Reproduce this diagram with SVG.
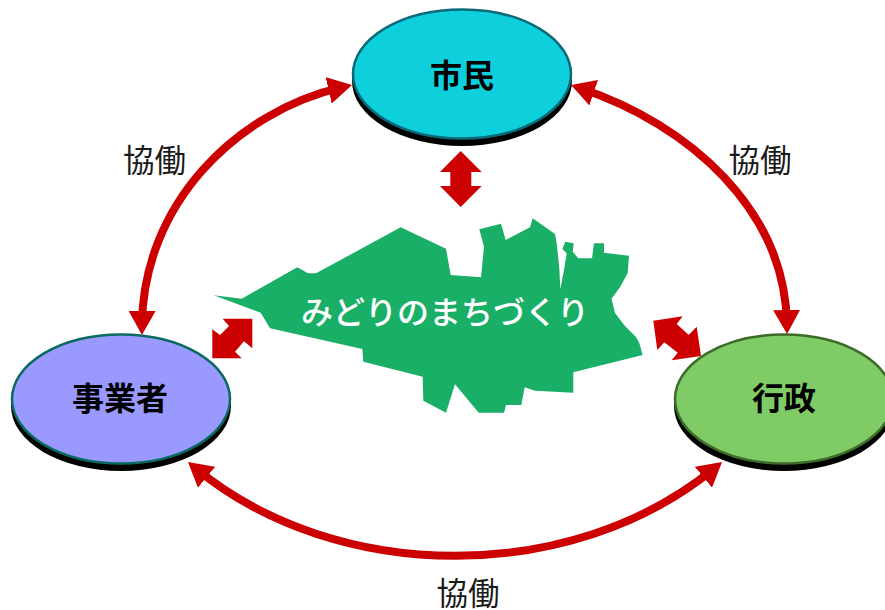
<svg xmlns="http://www.w3.org/2000/svg" width="885" height="610" viewBox="0 0 885 610">
<style>
.shadow{fill:#000}
.label{font-family:"Noto Sans CJK JP","Liberation Sans",sans-serif;font-weight:700;font-size:32px;fill:#000;text-anchor:middle}
.note{font-family:"Noto Sans CJK JP","Liberation Sans",sans-serif;font-weight:400;font-size:31.5px;fill:#1a1a1a;text-anchor:middle}
.arc{fill:none;stroke:#cc0000;stroke-width:8;marker-start:url(#head);marker-end:url(#head)}
.block{fill:#cc0000}
</style>
<defs>
<marker id="head" viewBox="0 0 24 27" refX="14" refY="13.5" markerUnits="userSpaceOnUse" markerWidth="24" markerHeight="27" orient="auto-start-reverse">
<path d="M0 0L24 13.5L0 27Z" fill="#cc0000"/>
</marker>
</defs>
<rect width="885" height="610" fill="#fff"/>
<g id="map">
<polygon fill="#19af67" points="213.7,295.3 241.7,298.7 297.3,267.3 308,273.3 316,273.3 400.7,227.3 446,248.7 450.7,275 481,277.3 484,246.7 479.3,229.3 501,223.7 505.7,240 530,227.3 532.7,218.3 555,234 556.7,243.3 559.3,268 560.3,289.3 564,270 566.7,253.3 562.3,249 565.3,241.7 573.7,243.3 572.7,251.7 578.3,258.3 592,258.3 594,243.3 604,243.3 604,252.7 629,255.7 627.7,273 620,287.3 611.5,298.7 615,313 625,326 636,337 639.3,343 642.7,355 573.3,372.3 573.3,392.7 535,390.7 524.7,387.3 521.3,405 506,405 504,412.7 478.7,412.7 455,384.3 446,412.7 423.3,400.7 422.7,376.7 363.3,361.7 362.3,349 270,328.3 260.7,312.7"/>
<text x="445" y="324" font-family="'Noto Sans CJK JP','Liberation Sans',sans-serif" font-size="32" font-weight="500" fill="#fff" text-anchor="middle">みどりのまちづくり</text>
</g>
<g id="connectors">
<path class="arc" d="M342.3 87.2C235 112 143 205 142 325"/>
<path class="arc" d="M580.5 88.2C690 125 785 210 786.9 324"/>
<path class="arc" d="M195.7 468.4C338 585 572 585 714.3 468.4"/>
<polygon class="block" points="460.7,151 481.7,172 471.3,172 471.3,186 481.7,186 460.7,207 440,186 450.3,186 450.3,172 440,172"/>
<polygon class="block" points="252.3,318.7 222.7,318.7 229,326 220,335 212.3,329.3 212.3,358.3 241.7,358.3 235,351.7 244,341.3 252.3,348.3"/>
<polygon class="block" points="653.3,320.7 682.7,316.3 676.7,324 688.7,335 696.7,326.7 701,356 671.7,360.3 677.7,352.7 664.3,342.3 657.3,350"/>
</g>
<g id="citizen">
<ellipse class="shadow" cx="462" cy="81" rx="110" ry="65"/>
<ellipse cx="462" cy="74" rx="109" ry="64.5" fill="#0dd0dc" stroke="#0a6a78" stroke-width="2.5"/>
<text class="label" x="462" y="87">市民</text>
</g>
<g id="business">
<ellipse class="shadow" cx="121" cy="406" rx="110" ry="65"/>
<ellipse cx="121" cy="399" rx="109" ry="64.5" fill="#9999ff" stroke="#0a6a60" stroke-width="2.5"/>
<text class="label" x="120" y="410">事業者</text>
</g>
<g id="government">
<ellipse class="shadow" cx="784" cy="406" rx="110" ry="65"/>
<ellipse cx="784" cy="399" rx="109" ry="64.5" fill="#7fcc66" stroke="#3d6b2a" stroke-width="2.5"/>
<text class="label" x="784" y="410">行政</text>
</g>
<g id="labels">
<text class="note" x="154.5" y="171.5">協働</text>
<text class="note" x="760" y="171.5">協働</text>
<text class="note" x="468" y="605">協働</text>
</g>
</svg>
